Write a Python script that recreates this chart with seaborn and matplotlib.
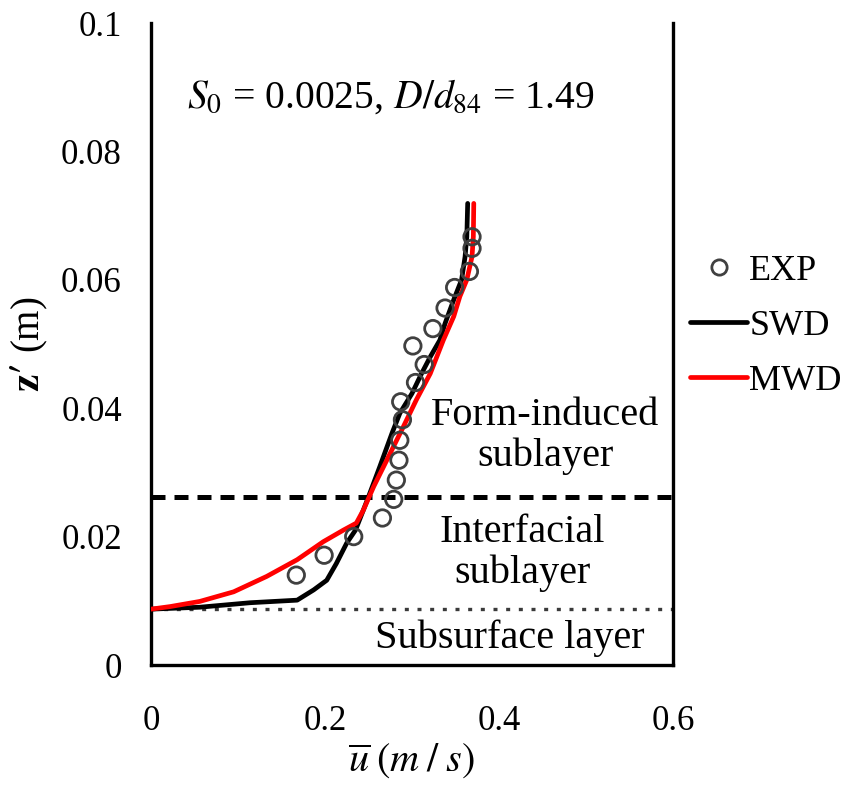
import matplotlib
matplotlib.use("Agg")
import matplotlib.pyplot as plt
import seaborn as sns
import pandas as pd
from matplotlib.lines import Line2D

# ---- data ----
exp_u = [0.167, 0.199, 0.233, 0.266, 0.279, 0.282, 0.285, 0.286, 0.289, 0.287,
         0.304, 0.314, 0.301, 0.324, 0.338, 0.349, 0.366, 0.369, 0.369]
exp_z = [0.0140, 0.0171, 0.0200, 0.0229, 0.0258, 0.0288, 0.0319, 0.0350, 0.0382, 0.0410,
         0.0440, 0.0468, 0.0497, 0.0524, 0.0556, 0.0588, 0.0613, 0.0649, 0.0667]

swd_u = [0.0, 0.056, 0.114, 0.168, 0.187, 0.202, 0.213, 0.225, 0.235, 0.244, 0.250, 0.263,
         0.277, 0.286, 0.300, 0.311, 0.321, 0.332, 0.338, 0.348, 0.357, 0.361, 0.363, 0.364]
swd_z = [0.0087, 0.0090, 0.0097, 0.0101, 0.0117, 0.0132, 0.0158, 0.0190, 0.0210, 0.0241,
         0.0262, 0.0309, 0.0361, 0.0392, 0.0423, 0.0454, 0.0480, 0.0506, 0.0532, 0.0569,
         0.0600, 0.0636, 0.0667, 0.0719]

mwd_u = [0.0, 0.022, 0.056, 0.095, 0.133, 0.168, 0.198, 0.221, 0.236, 0.244, 0.256, 0.271,
         0.290, 0.305, 0.321, 0.336, 0.348, 0.355, 0.363, 0.369, 0.3705, 0.371]
mwd_z = [0.0087, 0.0091, 0.0099, 0.0114, 0.0138, 0.0164, 0.0192, 0.0210, 0.0221, 0.0241,
         0.0278, 0.0319, 0.0371, 0.0413, 0.0454, 0.0506, 0.0543, 0.0574, 0.0600, 0.0636,
         0.0667, 0.0719]

form_line_z = 0.0262
subsurface_line_z = 0.0087

x_ticks = [0, 0.2, 0.4, 0.6]
x_tick_labels = ["0", "0.2", "0.4", "0.6"]
y_ticks = [0, 0.02, 0.04, 0.06, 0.08, 0.1]
y_tick_labels = ["0", "0.02", "0.04", "0.06", "0.08", "0.1"]

legend_labels = ["EXP", "SWD", "MWD"]

# ---- style ----
sns.set_theme(style="white")
plt.rcParams["font.family"] = ["Liberation Serif", "DejaVu Serif"]
plt.rcParams["mathtext.fontset"] = "stix"
plt.rcParams["text.color"] = "black"
plt.rcParams["axes.labelcolor"] = "black"
plt.rcParams["xtick.color"] = "black"
plt.rcParams["ytick.color"] = "black"

fig = plt.figure(figsize=(8.5, 7.98), dpi=100)
fig.patch.set_facecolor("white")
ax = fig.add_axes([151 / 850, 133 / 798, 522 / 850, 642 / 798])

exp_df = pd.DataFrame({"u": exp_u, "z": exp_z})
swd_df = pd.DataFrame({"u": swd_u, "z": swd_z})
mwd_df = pd.DataFrame({"u": mwd_u, "z": mwd_z})

ax.axhline(form_line_z, color="black", lw=3.6, ls=(0, (2.8, 1.8)), dash_capstyle="butt", zorder=1)
ax.axhline(subsurface_line_z, color="#3a3a3a", lw=2.4, ls=(0, (1.2, 2.6)), dash_capstyle="butt", zorder=1)

sns.lineplot(data=swd_df, x="u", y="z", sort=False, estimator=None, color="black", lw=3.4, ax=ax, zorder=3)
sns.lineplot(data=mwd_df, x="u", y="z", sort=False, estimator=None, color="#ff0000", lw=3.4, ax=ax, zorder=4)
sns.scatterplot(data=exp_df, x="u", y="z", marker="o", s=140, facecolor="none",
                edgecolor="#404040", linewidth=2.0, ax=ax, zorder=5)

ax.set_xlim(0, 0.6)
ax.set_ylim(0, 0.1)
ax.set_xticks(x_ticks)
ax.set_xticklabels(x_tick_labels)
ax.set_yticks(y_ticks)
ax.set_yticklabels(y_tick_labels)
ax.tick_params(axis="both", direction="out", length=9, width=2.2, labelsize=25, colors="black", pad=12)
ax.tick_params(axis="x", pad=20)

ax.spines["top"].set_visible(False)
for side in ["left", "bottom", "right"]:
    ax.spines[side].set_color("black")
    ax.spines[side].set_linewidth(2.4)

ax.set_xlabel(r"$\overline{u}\;\left(m\;/\;s\right)$", fontsize=29, labelpad=2)
ax.set_ylabel(r"$\mathbf{z\prime}$ (m)", fontsize=28, labelpad=8)

ax.text(0.041, 0.0885, r"$S_0$ = 0.0025, $D/d_{84}$ = 1.49", fontsize=28.5, ha="left", va="center")
ax.text(0.453, 0.0357, "Form-induced\nsublayer", fontsize=29, ha="center", va="center",
        linespacing=1.12)
ax.text(0.427, 0.0174, "Interfacial\nsublayer", fontsize=29, ha="center", va="center",
        linespacing=1.12)
ax.text(0.412, 0.0042, "Subsurface layer", fontsize=29, ha="center", va="center")

handles = [
    Line2D([], [], marker="o", ls="none", markerfacecolor="none", markeredgecolor="#404040",
           markeredgewidth=2.0, markersize=11),
    Line2D([], [], color="black", lw=3.4),
    Line2D([], [], color="#ff0000", lw=3.4),
]
ax.legend(handles, legend_labels, loc="center left", bbox_to_anchor=(1.032, 0.528),
          frameon=False, fontsize=26, handlelength=1.6, handletextpad=0.05,
          labelspacing=0.6, borderpad=0, borderaxespad=0)

fig.savefig("out.png", dpi=100, facecolor="white")
